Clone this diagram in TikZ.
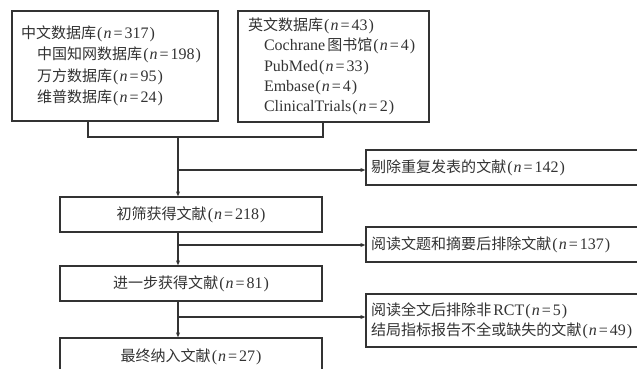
\documentclass[tikz,border=0pt]{standalone}
\usepackage{fontspec}
\setmainfont{Liberation Serif}
\newfontfamily\cjk[Scale=0.94]{Noto Sans CJK SC}
\usetikzlibrary{arrows.meta}
\newcommand\zh[1]{{\cjk #1}}
\newcommand\nn[1]{\kern1pt(\kern1pt\textit{n}\kern2pt=\kern2pt#1\kern1pt)}
\definecolor{ink}{HTML}{333333}
\begin{document}
\begin{tikzpicture}[x=1pt,y=-1pt,
  box/.style={draw=ink, line width=1.3pt, rectangle, inner sep=0pt, text=ink,
              font=\fontsize{16}{20.5}\selectfont},
  conn/.style={draw=ink, line width=1.1pt},
  arr/.style={conn, -{Stealth[length=5pt,width=4pt]}}]
\useasboundingbox (0,0) rectangle (637,369);
\clip (0,0) rectangle (637,369);
\fill[white] (0,0) rectangle (637,369);

\node[box, minimum width=206pt, minimum height=110pt, text width=188pt, align=left,
      font=\fontsize{16}{21.5}\selectfont] (cn) at (115,66)
  {\zh{中文数据库}\nn{317}\\
   \hspace*{16pt}\zh{中国知网数据库}\nn{198}\\
   \hspace*{16pt}\zh{万方数据库}\nn{95}\\
   \hspace*{16pt}\zh{维普数据库}\nn{24}};

\node[box, minimum width=191pt, minimum height=111pt, text width=171pt, align=left,
      font=\fontsize{16}{20.3}\selectfont] (en) at (333.5,66.5)
  {\zh{英文数据库}\nn{43}\\
   \hspace*{16pt}Cochrane\kern2pt\zh{图书馆}\nn{4}\\
   \hspace*{16pt}PubMed\nn{33}\\
   \hspace*{16pt}Embase\nn{4}\\
   \hspace*{16pt}ClinicalTrials\nn{2}};

\node[box, minimum width=262pt, minimum height=35pt] (s1) at (191,214.5) {\zh{初筛获得文献}\nn{218}};
\node[box, minimum width=262pt, minimum height=35pt] (s2) at (191,283.5) {\zh{进一步获得文献}\nn{81}};
\node[box, minimum width=262pt, minimum height=38pt] (s3) at (191,357) {\zh{最终纳入文献}\nn{27}};

\node[box, minimum width=294pt, minimum height=35pt, text width=284pt, align=left] (e1) at (513,167.5)
  {\zh{剔除重复发表的文献}\nn{142}};
\node[box, minimum width=294pt, minimum height=35pt, text width=284pt, align=left] (e2) at (513,244.5)
  {\zh{阅读文题和摘要后排除文献}\nn{137}};
\node[box, minimum width=294pt, minimum height=53pt, text width=284pt, align=left,
      font=\fontsize{16}{20}\selectfont] (e3) at (513,320.5)
  {\zh{阅读全文后排除非}\kern2pt RCT\nn{5}\\
   \zh{结局指标报告不全或缺失的文献}\nn{49}};

\coordinate (ja) at (88,137);
\coordinate (jb) at (323,137);
\coordinate (jm) at (178,137);
\coordinate (b1) at (178,170);
\coordinate (b2) at (178,245);
\coordinate (b3) at (178,317);

\draw[conn] (ja |- cn.south) -- (ja) -- (jb) -- (jb |- en.south);
\draw[arr] (jm) -- (jm |- s1.north);
\draw[arr] (b1) -- (b1 -| e1.west);
\draw[arr] (jm |- s1.south) -- (jm |- s2.north);
\draw[arr] (b2) -- (b2 -| e2.west);
\draw[arr] (jm |- s2.south) -- (jm |- s3.north);
\draw[arr] (b3) -- (b3 -| e3.west);
\end{tikzpicture}
\end{document}
